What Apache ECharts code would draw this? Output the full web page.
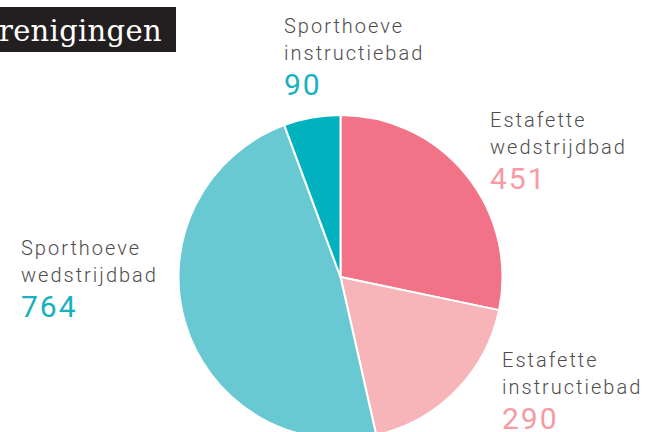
<!DOCTYPE html>
<html>
<head>
<meta charset="utf-8">
<script src="https://cdn.jsdelivr.net/npm/echarts@6/dist/echarts.min.js"></script>
<style>
html,body{margin:0;padding:0;background:#fff;}
#chart{width:646px;height:432px;}
#chart svg text{letter-spacing:2px;}
#chart svg text[fill="#fff"], #chart svg text[fill="rgb(255,255,255)"], #chart svg text[fill="#ffffff"]{letter-spacing:0.3px;}
</style>
</head>
<body>
<div id="chart"></div>
<script>
// Data
const categories = ['Estafette wedstrijdbad', 'Estafette instructiebad', 'Sporthoeve wedstrijdbad', 'Sporthoeve instructiebad'];
const values = [451, 290, 764, 90];
const titleText = 'renigingen';

// Styles
const sliceColors = ['#F27388', '#F7B4B9', '#69C9D2', '#02B1BE'];
const valueColors = ['#F69AA4', '#F69AA4', '#16B1BF', '#16B1BF'];
const labelPos = [[490, 106], [502, 346], [21, 234], [284, 12]];

const chart = echarts.init(document.getElementById('chart'), null, {renderer: 'svg'});

const data = categories.map((c, i) => ({
  name: c,
  value: values[i],
  itemStyle: {color: sliceColors[i]},
  label: {
    formatter: function (p) {
      return c.split(' ').map(w => '{n|' + w + '}').join('\n') + '\n{v' + i + '|' + p.value + '}';
    }
  }
}));

const rich = {
  n: {fontFamily: 'Roboto', fontWeight: 300, fontSize: 20, lineHeight: 27, color: '#4d4d4d'}
};
valueColors.forEach((col, i) => {
  rich['v' + i] = {fontFamily: 'Roboto', fontWeight: 400, fontSize: 30, lineHeight: 36, color: col};
});

chart.setOption({
  animation: false,
  backgroundColor: '#fff',
  graphic: [
    {type: 'rect', left: 0, top: 7, shape: {width: 176, height: 45}, style: {fill: '#231F20'}, z: 10},
    {type: 'text', x: -1, y: 30.5, style: {text: titleText, fill: '#fff', font: '29px "DejaVu Serif"', verticalAlign: 'middle', align: 'left'}, z: 11}
  ],
  series: [{
    type: 'pie',
    center: [340.5, 277],
    radius: [0, 162],
    startAngle: 90,
    clockwise: true,
    avoidLabelOverlap: false,
    itemStyle: {borderColor: '#fff', borderWidth: 2},
    label: {show: true, position: 'outside', rich: rich, align: 'left'},
    labelLine: {show: false},
    labelLayout: function (params) {
      const p = labelPos[params.dataIndex];
      return {x: p[0], y: p[1], align: 'left', verticalAlign: 'top', hideOverlap: false};
    },
    emphasis: {disabled: true},
    data: data
  }]
});
</script>
</body>
</html>
